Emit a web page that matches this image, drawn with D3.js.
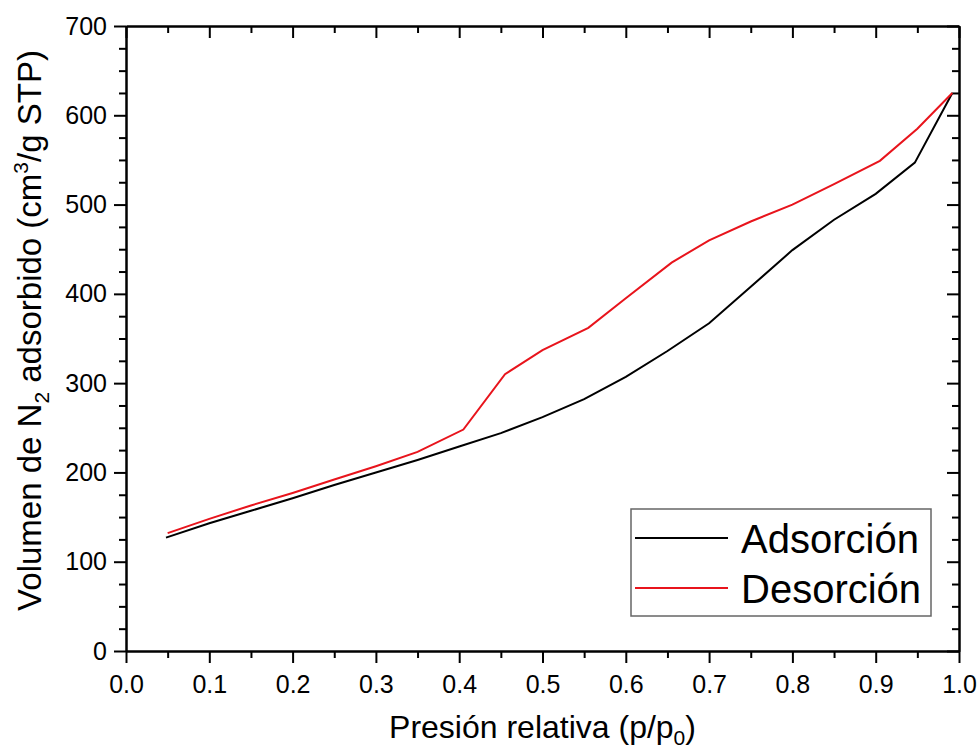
<!DOCTYPE html>
<html>
<head>
<meta charset="utf-8">
<script src="https://cdn.jsdelivr.net/npm/d3@7"></script>
<style>
  body { margin: 0; background: #fff; }
  svg text { font-family: "Liberation Sans", Arial, sans-serif; fill: #000; }
</style>
</head>
<body>
<div id="vis"></div>
<script>
// data
const adsP = [0.048, 0.1, 0.15, 0.2, 0.25, 0.3, 0.35, 0.4, 0.45, 0.5, 0.55, 0.6, 0.65, 0.7, 0.75, 0.8, 0.85, 0.9, 0.947, 0.992];
const adsV = [127, 143, 157, 171, 186, 200, 214, 229, 244, 262, 282, 307, 336, 367, 408, 449, 483, 512, 547, 625];
const desP = [0.05, 0.1, 0.15, 0.2, 0.25, 0.3, 0.35, 0.405, 0.455, 0.5, 0.555, 0.6, 0.655, 0.7, 0.75, 0.8, 0.85, 0.905, 0.95, 0.992];
const desV = [132, 148, 163, 177, 192, 207, 223, 248, 310, 337, 362, 395, 435, 460, 481, 500, 523, 549, 585, 625];
const xTicks = [0, 0.1, 0.2, 0.3, 0.4, 0.5, 0.6, 0.7, 0.8, 0.9, 1.0];
const xMinor = [0.05, 0.15, 0.25, 0.35, 0.45, 0.55, 0.65, 0.75, 0.85, 0.95];
const yTicks = [0, 100, 200, 300, 400, 500, 600, 700];
const yMinor = [25, 50, 75, 125, 150, 175, 225, 250, 275, 325, 350, 375, 425, 450, 475, 525, 550, 575, 625, 650, 675];
const seriesNames = ['Adsorción', 'Desorción'];
const seriesColors = ['#000000', '#e8141c'];

const width = 979, height = 750;
const plotLeft = 126, plotRight = 959, plotTop = 26, plotBottom = 651;

const svg = d3.select('#vis')
  .append('svg')
  .attr('width', width)
  .attr('height', height);

const x = d3.scaleLinear().domain([0, 1]).range([plotLeft, plotRight]);
const y = d3.scaleLinear().domain([0, 700]).range([plotBottom, plotTop]);

function styleAxis(g) {
  g.selectAll('.domain').attr('stroke', '#000').attr('stroke-width', 2);
  g.selectAll('.tick line').attr('stroke', '#000').attr('stroke-width', 2);
}

// bottom axis: majors with labels, minors without
svg.append('g')
  .attr('transform', `translate(0,${plotBottom})`)
  .call(d3.axisBottom(x).tickValues(xTicks).tickFormat(d3.format('.1f')).tickSize(12).tickPadding(12).tickSizeOuter(0))
  .call(styleAxis)
  .call(g => g.selectAll('text').attr('font-size', 25));
svg.append('g')
  .attr('transform', `translate(0,${plotBottom})`)
  .call(d3.axisBottom(x).tickValues(xMinor).tickFormat('').tickSize(7).tickSizeOuter(0))
  .call(styleAxis);

// top axis, ticks pointing inward
svg.append('g')
  .attr('transform', `translate(0,${plotTop})`)
  .call(d3.axisBottom(x).tickValues(xTicks).tickFormat('').tickSize(12).tickSizeOuter(0))
  .call(styleAxis);
svg.append('g')
  .attr('transform', `translate(0,${plotTop})`)
  .call(d3.axisBottom(x).tickValues(xMinor).tickFormat('').tickSize(7).tickSizeOuter(0))
  .call(styleAxis);

// left axis
svg.append('g')
  .attr('transform', `translate(${plotLeft},0)`)
  .call(d3.axisLeft(y).tickValues(yTicks).tickSize(12).tickPadding(7).tickSizeOuter(0))
  .call(styleAxis)
  .call(g => g.selectAll('text').attr('font-size', 25));
svg.append('g')
  .attr('transform', `translate(${plotLeft},0)`)
  .call(d3.axisLeft(y).tickValues(yMinor).tickFormat('').tickSize(7).tickSizeOuter(0))
  .call(styleAxis);

// right axis, ticks pointing inward
svg.append('g')
  .attr('transform', `translate(${plotRight},0)`)
  .call(d3.axisLeft(y).tickValues(yTicks).tickFormat('').tickSize(12).tickSizeOuter(0))
  .call(styleAxis);
svg.append('g')
  .attr('transform', `translate(${plotRight},0)`)
  .call(d3.axisLeft(y).tickValues(yMinor).tickFormat('').tickSize(7).tickSizeOuter(0))
  .call(styleAxis);

// curves
const line = d3.line()
  .x(d => x(d[0]))
  .y(d => y(d[1]));

const series = [d3.zip(adsP, adsV), d3.zip(desP, desV)];

svg.selectAll('.curve')
  .data(series)
  .enter()
  .append('path')
  .attr('class', 'curve')
  .attr('d', line)
  .attr('fill', 'none')
  .attr('stroke', (d, i) => seriesColors[i])
  .attr('stroke-width', 2);

// axis titles
const xTitle = svg.append('text')
  .attr('x', (plotLeft + plotRight) / 2)
  .attr('y', 738)
  .attr('text-anchor', 'middle')
  .attr('font-size', 32);
xTitle.append('tspan').text('Presión relativa (p/p');
xTitle.append('tspan').attr('font-size', 21).attr('dy', 7).text('0');
xTitle.append('tspan').attr('dy', -7).text(')');

const yTitle = svg.append('text')
  .attr('transform', `translate(41,${(plotTop + plotBottom) / 2 - 8}) rotate(-90)`)
  .attr('text-anchor', 'middle')
  .attr('font-size', 33);
yTitle.append('tspan').text('Volumen de N');
yTitle.append('tspan').attr('font-size', 21).attr('dy', 8).text('2');
yTitle.append('tspan').attr('dy', -8).text(' adsorbido (cm');
yTitle.append('tspan').attr('font-size', 21).attr('dy', -13).text('3');
yTitle.append('tspan').attr('dy', 13).text('/g STP)');

// legend
const legend = svg.append('g');
legend.append('rect')
  .attr('x', 631)
  .attr('y', 509)
  .attr('width', 300)
  .attr('height', 107)
  .attr('fill', '#fff')
  .attr('stroke', '#666')
  .attr('stroke-width', 1.5);

legend.selectAll('.leg-line')
  .data(seriesNames)
  .enter()
  .append('line')
  .attr('class', 'leg-line')
  .attr('x1', 635)
  .attr('x2', 728)
  .attr('y1', (d, i) => 538 + i * 50)
  .attr('y2', (d, i) => 538 + i * 50)
  .attr('stroke', (d, i) => seriesColors[i])
  .attr('stroke-width', 2);

legend.selectAll('.leg-text')
  .data(seriesNames)
  .enter()
  .append('text')
  .attr('class', 'leg-text')
  .attr('x', 741)
  .attr('y', (d, i) => 553 + i * 50)
  .attr('font-size', 40)
  .text(d => d);
</script>
</body>
</html>
